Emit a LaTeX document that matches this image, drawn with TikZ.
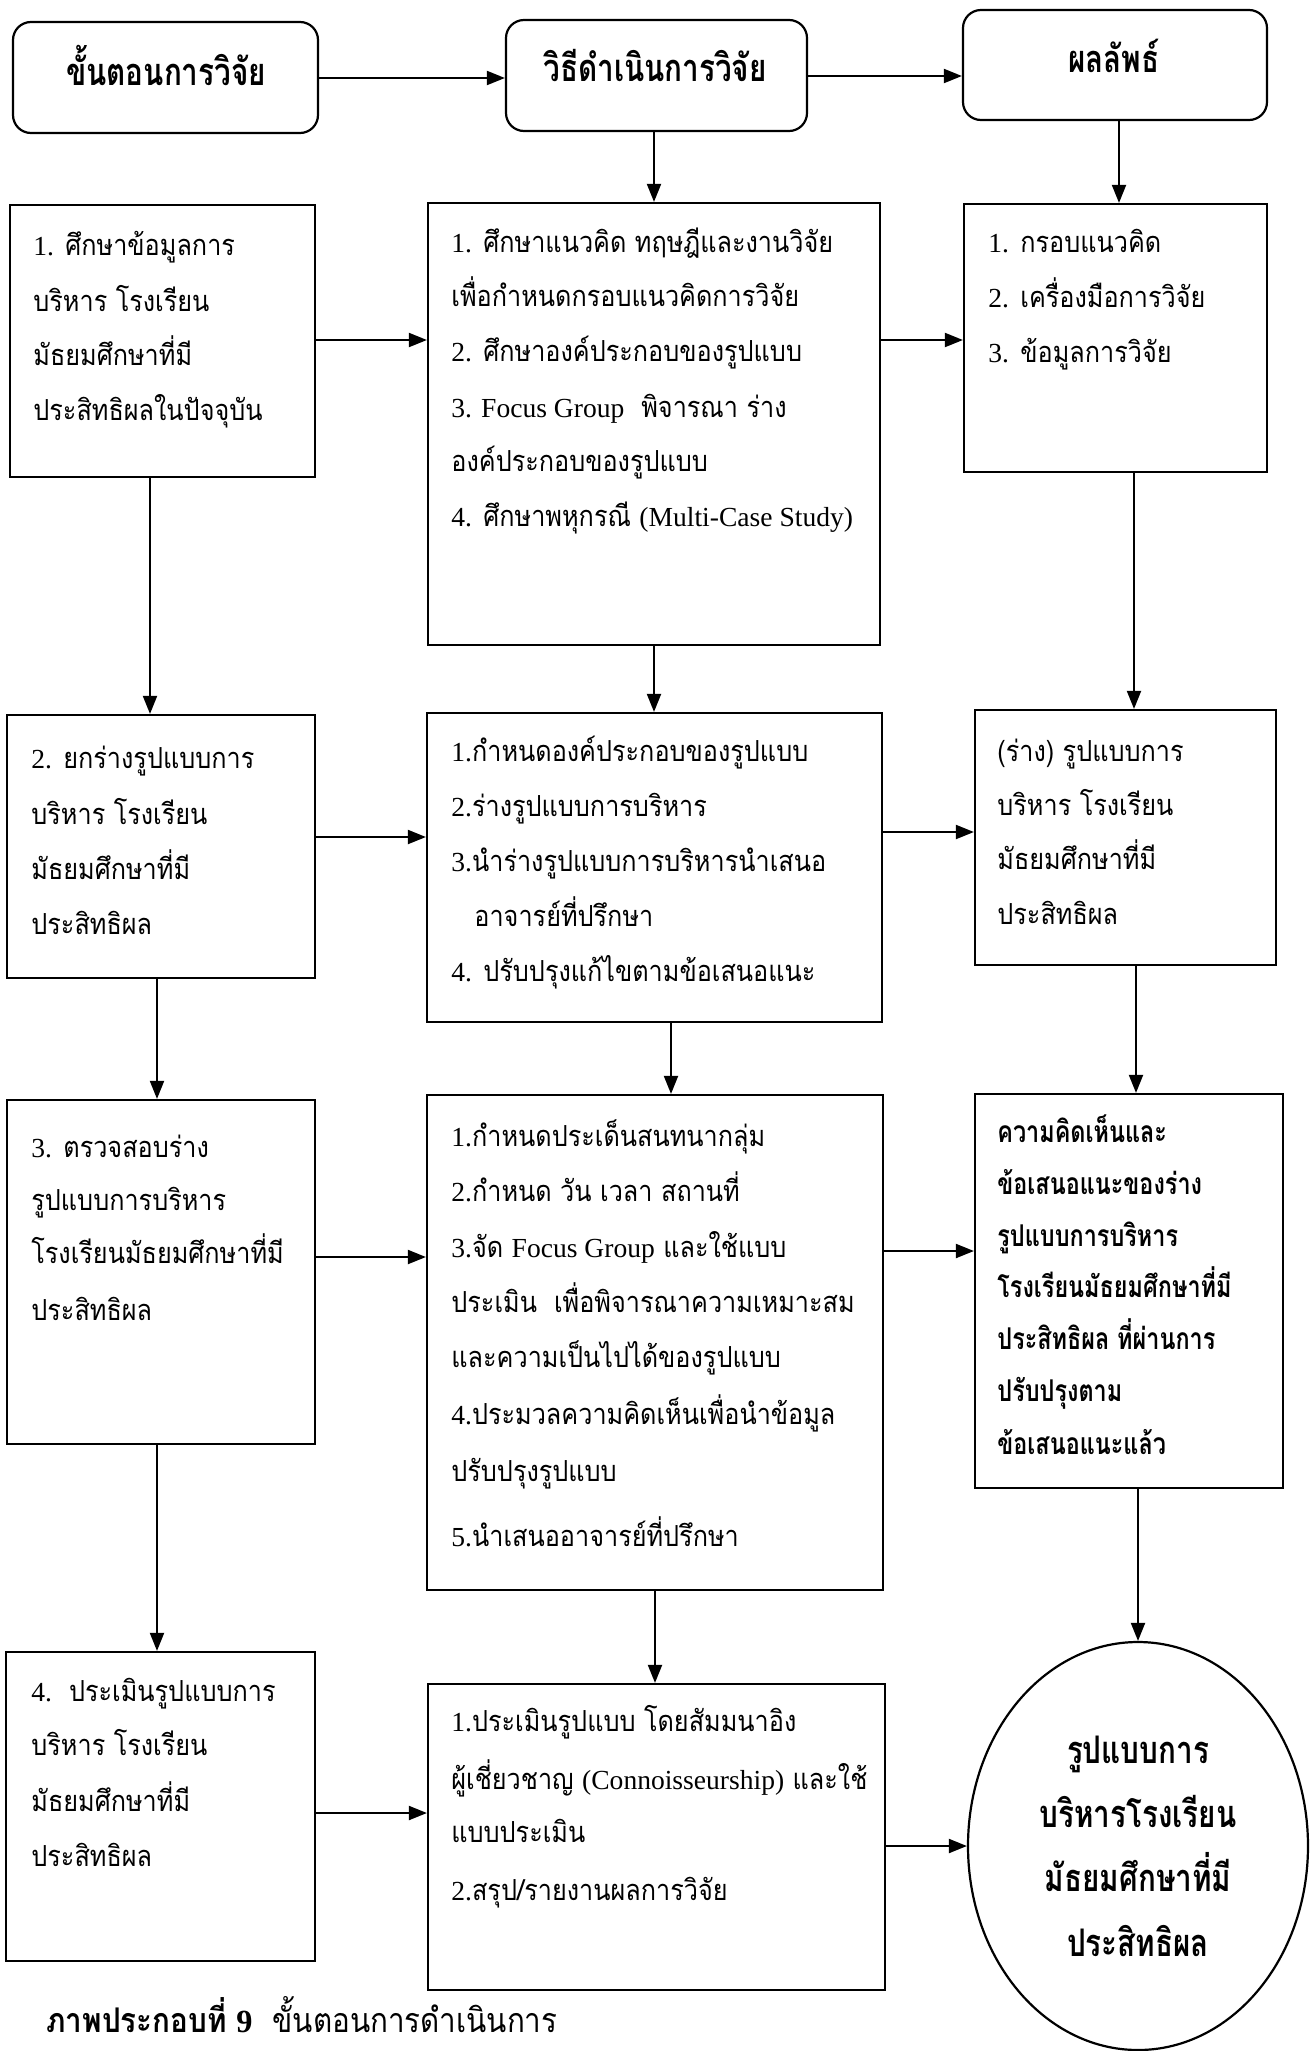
\documentclass[tikz,border=0pt]{standalone}
\usepackage{fontspec}
\usetikzlibrary{shapes.geometric,arrows.meta}
\setmainfont[Script=Thai]{Loma}
\newfontfamily\thai[Script=Thai,FakeStretch=0.87]{Loma}
\newfontfamily\thaicond[Script=Thai,FakeStretch=0.78]{Loma}
\newfontfamily\lat[Scale=0.95]{Liberation Serif}
\newcommand\flowbox[6][]{%
  \pgfmathsetmacro\cx{(#3+#5)/2}\pgfmathsetmacro\cy{(#4+#6)/2}%
  \pgfmathsetmacro\ww{(#5-#3)*0.5}\pgfmathsetmacro\hh{(#6-#4)*0.5}%
  \node[bx,#1,minimum width=\ww pt,minimum height=\hh pt] (#2) at (\cx,\cy) {};}
\newcommand\lineat[5][]{\node[txt,#1] (#2) at (#3,#4) {#5};}
\begin{document}
\begin{tikzpicture}[x=0.5pt,y=-0.5pt,
  bx/.style={draw,line width=1.1pt,inner sep=0pt,rectangle},
  hd/.style={bx,rounded corners=9pt},
  txt/.style={inner sep=0pt,anchor=base west,font=\thai\fontsize{14.5}{17}\selectfont},
  btxt/.style={txt,font=\thaicond\bfseries\fontsize{15}{18}\selectfont},
  hdtxt/.style={inner sep=0pt,anchor=base,font=\thaicond\bfseries\fontsize{19}{22}\selectfont},
  eltxt/.style={inner sep=0pt,anchor=base,font=\thaicond\bfseries\fontsize{19}{22}\selectfont},
  arr/.style={line width=1pt,-{Triangle[length=9pt,width=7pt]}}]
\useasboundingbox (0,0) rectangle (1315,2051);
% headers
\flowbox[hd]{HA}{13}{22}{318}{133}
\flowbox[hd]{HB}{506}{20}{807}{131}
\flowbox[hd]{HC}{963}{10}{1267}{120}
\node[hdtxt] (HAt) at (166,85) {ขั้นตอนการวิจัย};
\node[hdtxt] (HBt) at (655,81) {วิธีดำเนินการวิจัย};
\node[hdtxt] (HCt) at (1114,72) {ผลลัพธ์};
% boxes
\flowbox{L1}{10}{205}{315}{477}
\flowbox{M1}{428}{203}{880}{645}
\flowbox{R1}{964}{204}{1267}{472}
\flowbox{L2}{7}{715}{315}{978}
\flowbox{M2}{427}{713}{882}{1022}
\flowbox{R2}{975}{710}{1276}{965}
\flowbox{L3}{7}{1100}{315}{1444}
\flowbox{M3}{427}{1095}{883}{1590}
\flowbox{R3}{975}{1094}{1283}{1488}
\flowbox{L4}{6}{1652}{315}{1961}
\flowbox{M4}{428}{1684}{885}{1990}
\node[draw,line width=1.1pt,ellipse,inner sep=0pt,minimum width=170pt,minimum height=204pt] (E) at (1138,1846) {};
% texts L1
\lineat{L1a}{33}{255}{{\lat 1.} ศึกษาข้อมูลการ}
\lineat{L1b}{33}{311}{บริหาร โรงเรียน}
\lineat{L1c}{33}{365}{มัธยมศึกษาที่มี}
\lineat{L1d}{33}{420}{ประสิทธิผลในปัจจุบัน}
% M1
\lineat{M1a}{451}{252}{{\lat 1.} ศึกษาแนวคิด ทฤษฎีและงานวิจัย}
\lineat{M1b}{451}{306}{เพื่อกำหนดกรอบแนวคิดการวิจัย}
\lineat{M1c}{451}{361}{{\lat 2.} ศึกษาองค์ประกอบของรูปแบบ}
\lineat{M1d}{451}{417}{{\lat 3. Focus Group}\ \ พิจารณา ร่าง}
\lineat{M1e}{451}{471}{องค์ประกอบของรูปแบบ}
\lineat{M1f}{451}{526}{{\lat 4.} ศึกษาพหุกรณี {\lat (Multi-Case Study)}}
% R1
\lineat{R1a}{988}{252}{{\lat 1.} กรอบแนวคิด}
\lineat{R1b}{988}{307}{{\lat 2.} เครื่องมือการวิจัย}
\lineat{R1c}{988}{362}{{\lat 3.} ข้อมูลการวิจัย}
% L2
\lineat{L2a}{31}{768}{{\lat 2.} ยกร่างรูปแบบการ}
\lineat{L2b}{31}{824}{บริหาร โรงเรียน}
\lineat{L2c}{31}{879}{มัธยมศึกษาที่มี}
\lineat{L2d}{31}{934}{ประสิทธิผล}
% M2
\lineat{M2a}{451}{761}{{\lat 1.}กำหนดองค์ประกอบของรูปแบบ}
\lineat{M2b}{451}{816}{{\lat 2.}ร่างรูปแบบการบริหาร}
\lineat{M2c}{451}{871}{{\lat 3.}นำร่างรูปแบบการบริหารนำเสนอ}
\lineat{M2d}{474}{926}{อาจารย์ที่ปรึกษา}
\lineat{M2e}{451}{981}{{\lat 4.} ปรับปรุงแก้ไขตามข้อเสนอแนะ}
% R2
\lineat{R2a}{997}{761}{(ร่าง) รูปแบบการ}
\lineat{R2b}{997}{815}{บริหาร โรงเรียน}
\lineat{R2c}{997}{869}{มัธยมศึกษาที่มี}
\lineat{R2d}{997}{924}{ประสิทธิผล}
% L3
\lineat{L3a}{31}{1157}{{\lat 3.} ตรวจสอบร่าง}
\lineat{L3b}{31}{1210}{รูปแบบการบริหาร}
\lineat{L3c}{31}{1263}{โรงเรียนมัธยมศึกษาที่มี}
\lineat{L3d}{31}{1320}{ประสิทธิผล}
% M3
\lineat{M3a}{451}{1146}{{\lat 1.}กำหนดประเด็นสนทนากลุ่ม}
\lineat{M3b}{451}{1201}{{\lat 2.}กำหนด วัน เวลา สถานที่}
\lineat{M3c}{451}{1257}{{\lat 3.}จัด {\lat Focus Group} และใช้แบบ}
\lineat{M3d}{451}{1312}{ประเมิน\ \ เพื่อพิจารณาความเหมาะสม}
\lineat{M3e}{451}{1367}{และความเป็นไปได้ของรูปแบบ}
\lineat{M3f}{451}{1424}{{\lat 4.}ประมวลความคิดเห็นเพื่อนำข้อมูล}
\lineat{M3g}{451}{1481}{ปรับปรุงรูปแบบ}
\lineat{M3h}{451}{1546}{{\lat 5.}นำเสนออาจารย์ที่ปรึกษา}
% R3
\lineat[btxt]{R3a}{997}{1142}{ความคิดเห็นและ}
\lineat[btxt]{R3b}{997}{1194}{ข้อเสนอแนะของร่าง}
\lineat[btxt]{R3c}{997}{1246}{รูปแบบการบริหาร}
\lineat[btxt]{R3d}{997}{1297}{โรงเรียนมัธยมศึกษาที่มี}
\lineat[btxt]{R3e}{997}{1349}{ประสิทธิผล ที่ผ่านการ}
\lineat[btxt]{R3f}{997}{1401}{ปรับปรุงตาม}
\lineat[btxt]{R3g}{997}{1454}{ข้อเสนอแนะแล้ว}
% L4
\lineat{L4a}{31}{1701}{{\lat 4.}\ \ ประเมินรูปแบบการ}
\lineat{L4b}{31}{1755}{บริหาร โรงเรียน}
\lineat{L4c}{31}{1811}{มัธยมศึกษาที่มี}
\lineat{L4d}{31}{1866}{ประสิทธิผล}
% M4
\lineat{M4a}{451}{1731}{{\lat 1.}ประเมินรูปแบบ โดยสัมมนาอิง}
\lineat{M4b}{451}{1789}{ผู้เชี่ยวชาญ {\lat (Connoisseurship)} และใช้}
\lineat{M4c}{451}{1842}{แบบประเมิน}
\lineat{M4d}{451}{1900}{{\lat 2.}สรุป/รายงานผลการวิจัย}
% ellipse text
\node[eltxt] (Ea) at (1138,1763) {รูปแบบการ};
\node[eltxt] (Eb) at (1138,1827) {บริหารโรงเรียน};
\node[eltxt] (Ec) at (1138,1891) {มัธยมศึกษาที่มี};
\node[eltxt] (Ed) at (1138,1956) {ประสิทธิผล};
% caption
\node[txt,font=\thai\fontsize{17}{20}\selectfont] (cap) at (46,2032) {{\bfseries ภาพประกอบที่ {\lat 9}}\ \ ขั้นตอนการดำเนินการ};
% coordinates for arrows
\coordinate (yh1) at (0,78); \coordinate (yh2) at (0,76);
\coordinate (y1) at (0,340); \coordinate (y2a) at (0,837); \coordinate (y2b) at (0,832);
\coordinate (y3a) at (0,1257); \coordinate (y3b) at (0,1251); \coordinate (y4) at (0,1813);
\coordinate (xB) at (654,0); \coordinate (xC) at (1119,0);
\coordinate (xL1) at (150,0); \coordinate (xL2) at (157,0);
\coordinate (xM1) at (654,0); \coordinate (xM2) at (671,0); \coordinate (xM3) at (655,0);
\coordinate (xR1) at (1134,0); \coordinate (xR2) at (1136,0);
% arrows
\draw[arr] (HA.east |- yh1) -- (HB.west |- yh1);
\draw[arr] (HB.east |- yh2) -- (HC.west |- yh2);
\draw[arr] (HB.south -| xB) -- (M1.north -| xB);
\draw[arr] (HC.south -| xC) -- (R1.north -| xC);
\draw[arr] (L1.east |- y1) -- (M1.west |- y1);
\draw[arr] (M1.east |- y1) -- (R1.west |- y1);
\draw[arr] (L1.south -| xL1) -- (L2.north -| xL1);
\draw[arr] (M1.south -| xM1) -- (M2.north -| xM1);
\draw[arr] (R1.south -| xR1) -- (R2.north -| xR1);
\draw[arr] (L2.east |- y2a) -- (M2.west |- y2a);
\draw[arr] (M2.east |- y2b) -- (R2.west |- y2b);
\draw[arr] (L2.south -| xL2) -- (L3.north -| xL2);
\draw[arr] (M2.south -| xM2) -- (M3.north -| xM2);
\draw[arr] (R2.south -| xR2) -- (R3.north -| xR2);
\draw[arr] (L3.east |- y3a) -- (M3.west |- y3a);
\draw[arr] (M3.east |- y3b) -- (R3.west |- y3b);
\draw[arr] (L3.south -| xL2) -- (L4.north -| xL2);
\draw[arr] (M3.south -| xM3) -- (M4.north -| xM3);
\draw[arr] (R3.south -| E.north) -- (E.north);
\draw[arr] (L4.east |- y4) -- (M4.west |- y4);
\draw[arr] (M4.east |- E.west) -- (E.west);
\end{tikzpicture}
\end{document}
